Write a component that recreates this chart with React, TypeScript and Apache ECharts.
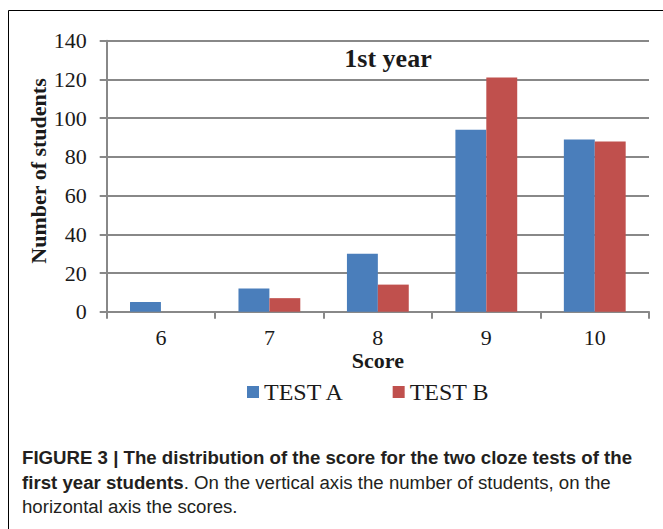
import React, { useEffect, useRef } from "react";
import * as echarts from "echarts";

const categories = ["6", "7", "8", "9", "10"];
const testA = [5, 12, 30, 94, 89];
const testB = [0, 7, 14, 121, 88];
const seriesNames = ["TEST A", "TEST B"];
const yTicks = { min: 0, max: 140, interval: 20 };
const chartTitle = "1st year";
const yAxisName = "Number of students";
const xAxisName = "Score";
const captionBold1 = "FIGURE 3 | The distribution of the score for the two cloze tests of the";
const captionBold2 = "first year students";
const captionRest2 = ". On the vertical axis the number of students, on the";
const captionLine3 = "horizontal axis the scores.";

const SERIF = "'Liberation Serif', 'Times New Roman', serif";
const SANS = "'Liberation Sans', Arial, sans-serif";
const GRID = "#888888";

export default function App() {
  const ref = useRef<HTMLDivElement>(null);
  useEffect(() => {
    if (!ref.current) return;
    const chart = echarts.init(ref.current, undefined, { renderer: "svg" });
    chart.setOption({
      animation: false,
      backgroundColor: "#ffffff",
      grid: { left: 106.7, right: 14, top: 40.8, bottom: 217.3, containLabel: false },
      legend: {
        data: seriesNames,
        left: 242,
        top: 375,
        itemWidth: 12,
        itemHeight: 12,
        itemGap: 48,
        icon: "rect",
        textStyle: { fontFamily: SERIF, fontSize: 24, color: "#1a1a1a" },
      },
      xAxis: {
        type: "category",
        data: categories,
        boundaryGap: true,
        name: xAxisName,
        nameLocation: "middle",
        nameGap: 39,
        nameMoveOverlap: false,
        nameTextStyle: { fontFamily: SERIF, fontSize: 22, lineHeight: 20, fontWeight: "bold", color: "#1a1a1a" },
        axisLine: { show: true, lineStyle: { color: GRID, width: 2 } },
        axisTick: { show: true, length: 7, alignWithLabel: false, lineStyle: { color: GRID, width: 2 } },
        axisLabel: { fontFamily: SERIF, fontSize: 22, lineHeight: 20, color: "#1a1a1a", margin: 16 },
      },
      yAxis: {
        type: "value",
        min: yTicks.min,
        max: yTicks.max,
        interval: yTicks.interval,
        axisLine: { show: true, lineStyle: { color: GRID, width: 2 } },
        axisTick: { show: true, length: 7, lineStyle: { color: GRID, width: 2 } },
        axisLabel: { fontFamily: SERIF, fontSize: 22, color: "#1a1a1a", margin: 20 },
        splitLine: { show: true, lineStyle: { color: GRID, width: 2 } },
      },
      series: [
        {
          name: seriesNames[0],
          type: "bar",
          data: testA,
          barGap: "0%",
          barCategoryGap: "43%",
          itemStyle: { color: "#4A7EBB" },
        },
        {
          name: seriesNames[1],
          type: "bar",
          data: testB,
          barGap: "0%",
          barCategoryGap: "43%",
          itemStyle: { color: "#C0504D" },
        },
      ],
      graphic: [
        {
          type: "rect",
          shape: { x: 8.5, y: 10.5, width: 700, height: 600 },
          style: { fill: "none", stroke: "#000", lineWidth: 1 },
          silent: true,
          z: -1,
        },
        {
          type: "text",
          x: 388,
          y: 58,
          style: {
            text: chartTitle,
            align: "center",
            verticalAlign: "middle",
            font: `bold 26px ${SERIF}`,
            fill: "#1a1a1a",
          },
        },
        {
          type: "text",
          x: 38,
          y: 171,
          rotation: Math.PI / 2,
          style: {
            text: yAxisName,
            align: "center",
            verticalAlign: "middle",
            font: `bold 22px ${SERIF}`,
            fill: "#1a1a1a",
          },
        },
        {
          type: "text",
          x: 22,
          y: 457,
          scaleX: 0.982,
          style: {
            text: captionBold1,
            verticalAlign: "middle",
            font: `bold 19px ${SANS}`,
            fill: "#231f20",
          },
        },
        {
          type: "text",
          x: 22,
          y: 482,
          scaleX: 0.982,
          style: {
            text: `{b|${captionBold2}}{r|${captionRest2}}`,
            verticalAlign: "middle",
            rich: {
              b: { font: `bold 19px ${SANS}`, fill: "#231f20" },
              r: { font: `19px ${SANS}`, fill: "#231f20" },
            },
          },
        },
        {
          type: "text",
          x: 22,
          y: 506,
          scaleX: 0.982,
          style: {
            text: captionLine3,
            verticalAlign: "middle",
            font: `19px ${SANS}`,
            fill: "#231f20",
          },
        },
      ],
    });
    return () => chart.dispose();
  }, []);
  return (
    <div
      ref={ref}
      style={{ position: "absolute", left: 0, top: 0, width: 663, height: 529 }}
    />
  );
}
